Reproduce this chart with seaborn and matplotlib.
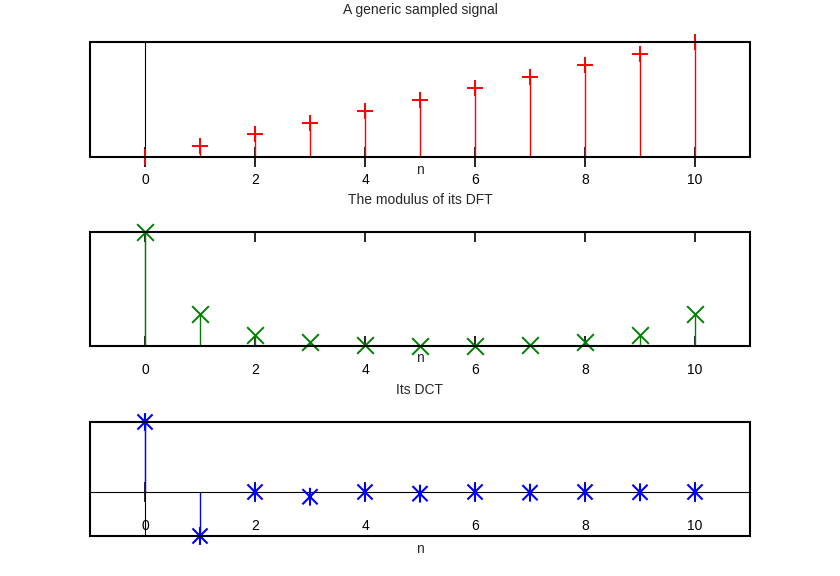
import numpy as np
import pandas as pd
import seaborn as sns
import matplotlib
matplotlib.use("Agg")
import matplotlib.pyplot as plt
from matplotlib.path import Path
from matplotlib.patches import Rectangle

# ---- data ----
n = [0, 1, 2, 3, 4, 5, 6, 7, 8, 9, 10]
signal = [0, 1, 2, 3, 4, 5, 6, 7, 8, 9, 10]
dft_mod = [55.0, 19.52, 10.17, 7.28, 6.05, 5.56, 5.56, 6.05, 7.28, 10.17, 19.52]
dct_vals = [16.58, -10.42, 0.0, -1.12, 0.0, -0.38, 0.0, -0.16, 0.0, -0.07, 0.0]
xticks = [0, 2, 4, 6, 8, 10]
titles = ["A generic sampled signal", "The modulus of its DFT", "Its DCT"]
xlabel = "n"

sns.set_theme(style="white")
plt.rcParams["font.family"] = ["Liberation Sans", "DejaVu Sans"]
plt.rcParams["font.size"] = 10

W, H = 840, 576
fig = plt.figure(figsize=(W / 100, H / 100), dpi=100)
fig.patch.set_facecolor("white")


def make_axes(top_px, bot_px):
    return fig.add_axes([90 / W, 1 - bot_px / H, 660 / W, (bot_px - top_px) / H])


ax1 = make_axes(42, 157)
ax2 = make_axes(232, 346)
ax3 = make_axes(422, 536)

ast = Path([(0, -1), (0, 1), (-0.85, -0.85), (0.85, 0.85), (-0.85, 0.85), (0.85, -0.85)],
           [Path.MOVETO, Path.LINETO, Path.MOVETO, Path.LINETO, Path.MOVETO, Path.LINETO])

df = pd.DataFrame({"n": n, "signal": signal, "dft": dft_mod, "dct": dct_vals})

for ax in (ax1, ax2, ax3):
    ax.set_facecolor("white")
    ax.set_xlim(-1, 11)
    for s in ax.spines.values():
        s.set_visible(False)
    ax.add_patch(Rectangle((0, 0), 1, 1, transform=ax.transAxes, fill=False,
                           lw=1.5, ec="black", clip_on=False, zorder=5))
    ax.axvline(0, color="black", lw=0.8, zorder=1)
    ax.set_yticks([])
    ax.set_xticks(xticks)

# ---- panel 1 ----
ax1.set_ylim(0, 10)
ax1.vlines(df["n"], 0, df["signal"], color="red", lw=1, zorder=2, clip_on=False)
sns.scatterplot(data=df, x="n", y="signal", marker="+", s=135, color="red",
                linewidth=1.4, ax=ax1, zorder=3, clip_on=False)
ax1.tick_params(axis="x", direction="inout", length=14.4, width=1.2,
                pad=4.2, bottom=True, top=False, colors="black", labelsize=10)
ax1.text(0.5, -0.113, xlabel, transform=ax1.transAxes, ha="center", va="center", fontsize=10)

# ---- panel 2 ----
ax2.set_ylim(5.4, 55)
ax2.vlines(df["n"], 0, df["dft"], color="green", lw=1, zorder=2)
sns.scatterplot(data=df, x="n", y="dft", marker="x", s=145, color="green",
                linewidth=1.4, ax=ax2, zorder=3, clip_on=False)
ax2.tick_params(axis="x", direction="in", length=7.2, width=1.2, pad=12.2,
                bottom=True, top=True, colors="black", labelsize=10)
ax2.text(0.5, -0.105, xlabel, transform=ax2.transAxes, ha="center", va="center", fontsize=10)

# ---- panel 3 ----
ax3.set_ylim(-10.42, 16.58)
ax3.spines["bottom"].set_visible(True)
ax3.spines["bottom"].set_position(("data", 0))
ax3.spines["bottom"].set_linewidth(0.8)
ax3.spines["bottom"].set_color("black")
ax3.vlines(df["n"], 0, df["dct"], color="blue", lw=1, zorder=2)
sns.scatterplot(data=df, x="n", y="dct", marker=ast, s=165, facecolor="none",
                edgecolor="blue", linewidth=1.5, ax=ax3, zorder=3, clip_on=False)
ax3.tick_params(axis="x", direction="inout", length=14.4, width=1.2, pad=12.2,
                bottom=True, top=False, colors="black", labelsize=10)
ax3.text(0.5, -0.114, xlabel, transform=ax3.transAxes, ha="center", va="center", fontsize=10)

for ax in (ax1, ax2, ax3):
    ax.set_xlabel("")
    ax.set_ylabel("")
    lg = ax.get_legend()
    if lg is not None:
        lg.remove()

for t, ypx in zip(titles, [10, 200, 390]):
    fig.text(0.5, 1 - ypx / H, t, ha="center", va="center", fontsize=10)

fig.savefig("out.png", dpi=100, facecolor="white")
